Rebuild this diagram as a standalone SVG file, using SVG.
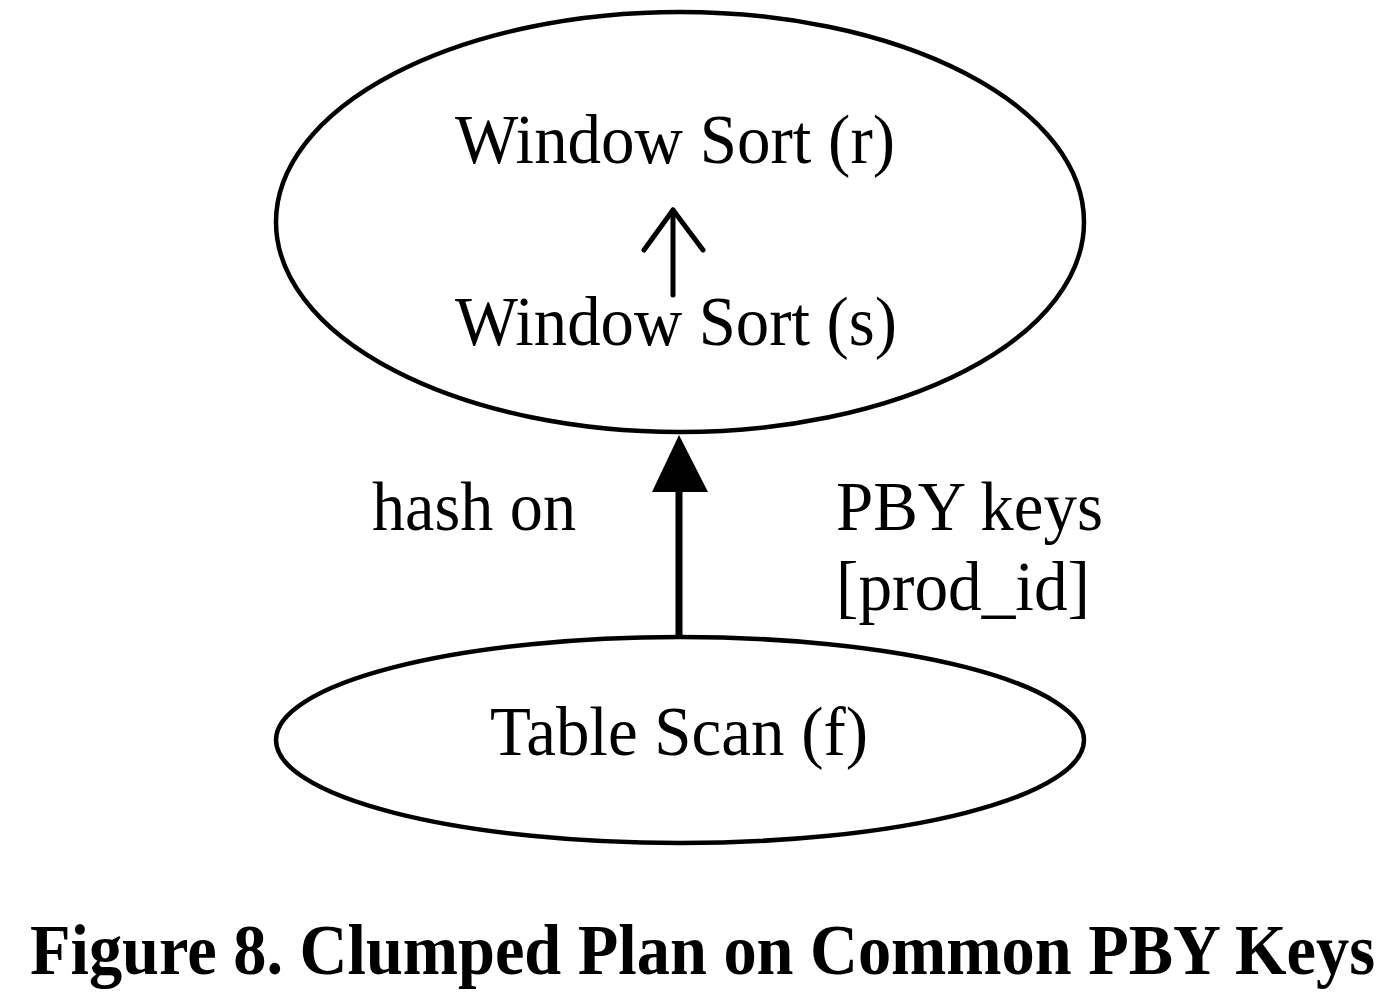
<svg xmlns="http://www.w3.org/2000/svg" width="1400" height="1000" viewBox="0 0 1400 1000">
<style>
.t{font-family:"Liberation Serif","Times New Roman",serif;font-size:70px;fill:#000}
.cap{font-family:"Liberation Serif","Times New Roman",serif;font-size:71px;font-weight:bold;fill:#000}
.node{fill:#fff;stroke:#000;stroke-width:4.5}
</style>
<rect width="1400" height="1000" fill="#fff"/>
<g id="window-sorts">
<ellipse class="node" cx="680" cy="222" rx="404" ry="210"/>
<text class="t" x="455" y="163" textLength="440" lengthAdjust="spacingAndGlyphs">Window Sort (r)</text>
<text class="t" x="455" y="345" textLength="442" lengthAdjust="spacingAndGlyphs">Window Sort (s)</text>
<g id="inner-arrow" fill="none" stroke="#000" stroke-width="5" stroke-linecap="round" stroke-linejoin="round">
<line x1="673" y1="295" x2="673" y2="210"/>
<polyline points="644,250 673,210 703,250"/>
</g>
</g>
<g id="table-scan">
<ellipse class="node" cx="680" cy="740" rx="404" ry="103"/>
<text class="t" x="490" y="755" textLength="378" lengthAdjust="spacingAndGlyphs">Table Scan (f)</text>
</g>
<g id="connectors">
<line x1="679" y1="638" x2="679" y2="488" stroke="#000" stroke-width="7"/>
<polygon points="679,435 652,492 708,492" fill="#000"/>
<text class="t" x="372" y="530" textLength="204" lengthAdjust="spacingAndGlyphs">hash on</text>
<text class="t" x="836" y="530" textLength="267" lengthAdjust="spacingAndGlyphs">PBY keys</text>
<text class="t" x="836" y="610" textLength="254" lengthAdjust="spacingAndGlyphs">[prod_id]</text>
</g>
<text class="cap" x="30" y="974" textLength="1345" lengthAdjust="spacingAndGlyphs">Figure 8. Clumped Plan on Common PBY Keys</text>
</svg>
